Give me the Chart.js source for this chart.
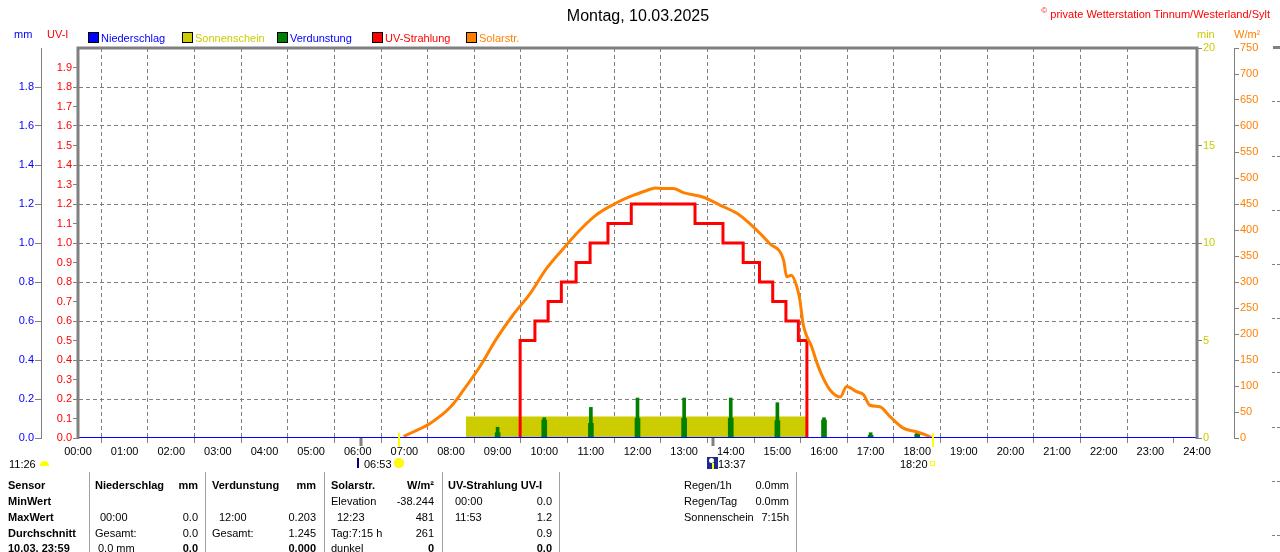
<!DOCTYPE html>
<html lang="de">
<head>
<meta charset="utf-8">
<title>Montag, 10.03.2025</title>
<script src="https://cdn.jsdelivr.net/npm/chart.js@4.4.1/dist/chart.umd.min.js"></script>
<style>
  html, body { margin: 0; padding: 0; background: #fff; overflow: hidden; }
  #wrap { position: relative; width: 1280px; height: 552px; overflow: hidden;
          font-family: "Liberation Sans", Arial, sans-serif; font-size: 11px; color: #000; }
  #chart { position: absolute; left: 0; top: 0; }
  .t { position: absolute; white-space: nowrap; line-height: 12px; }
  .r { text-align: right; }
  .b { font-weight: bold; }
  .box { position: absolute; width: 9px; height: 9px; border: 1px solid #000; }
  .sep { position: absolute; top: 472px; width: 1px; height: 80px; background: #a0a0a0; }
  .dash { position: absolute; left: 1272px; width: 8px; height: 1px;
          background: repeating-linear-gradient(90deg, #808080 0 3px, transparent 3px 5px); }
</style>
</head>
<body>
<div id="wrap">
  <canvas id="chart" width="1280" height="552"></canvas>

  <div class="t" style="left:0;width:1276px;top:7px;text-align:center;font-size:16px;line-height:18px;">Montag, 10.03.2025</div>
  <div class="t" style="right:10px;top:5px;color:#ff0000;"><sup style="font-size:8px;">©</sup> private Wetterstation Tinnum/Westerland/Sylt</div>

  <div class="t" style="left:14px;top:28px;color:#0000ff;">mm</div>
  <div class="t" style="left:47px;top:28px;color:#ff0000;">UV-I</div>
  <div class="t" style="left:1197px;top:28px;color:#cccc00;">min</div>
  <div class="t" style="left:1234px;top:28px;color:#ff8000;">W/m²</div>

  <div id="legende"></div>

  <div style="position:absolute;left:1273px;top:46px;width:7px;height:3px;background:#808080;"></div>
  <div class="dash" style="top:101px;"></div>
  <div class="dash" style="top:156px;"></div>
  <div class="dash" style="top:210px;"></div>
  <div class="dash" style="top:264px;"></div>
  <div class="dash" style="top:318px;"></div>
  <div class="dash" style="top:372px;"></div>
  <div class="dash" style="top:427px;"></div>
  <div class="dash" style="top:481px;"></div>
  <div class="dash" style="top:535px;"></div>

  <div class="t" style="left:9px;top:458px;">11:26</div>
  <div style="position:absolute;left:40px;top:461px;width:9px;height:5px;background:#ffff00;border-radius:5px 5px 0 0;"></div>
  <div style="position:absolute;left:357px;top:458px;width:2px;height:10px;background:#000080;"></div>
  <div class="t" style="left:364px;top:458px;">06:53</div>
  <div style="position:absolute;left:395px;top:459px;width:8px;height:8px;background:#ffff00;border-radius:50%;box-shadow:0 0 0 1px #ffee00;"></div>
  <div style="position:absolute;left:707px;top:457px;width:11px;height:12px;background:#1c2a8c;"></div>
  <div style="position:absolute;left:709px;top:458px;width:5px;height:5px;background:#fff;border-radius:50%;"></div>
  <div style="position:absolute;left:712px;top:463px;width:2px;height:6px;background:#ffff00;"></div>
  <div class="t" style="left:718px;top:458px;">13:37</div>
  <div class="t" style="left:900px;top:458px;">18:20</div>
  <div style="position:absolute;left:930px;top:461px;width:3px;height:3px;border:1px solid #ffff00;"></div>

  <div class="sep" style="left:89px;"></div>
  <div class="sep" style="left:205px;"></div>
  <div class="sep" style="left:324px;"></div>
  <div class="sep" style="left:442px;"></div>
  <div class="sep" style="left:559px;"></div>
  <div class="sep" style="left:796px;"></div>

  <div class="t b" style="left:8px;top:479px;">Sensor</div>
  <div class="t b" style="left:8px;top:495px;">MinWert</div>
  <div class="t b" style="left:8px;top:511px;">MaxWert</div>
  <div class="t b" style="left:8px;top:527px;">Durchschnitt</div>
  <div class="t b" style="left:8px;top:542px;">10.03. 23:59</div>

  <div class="t b" style="left:95px;top:479px;">Niederschlag</div>
  <div class="t b r" style="right:1082px;top:479px;">mm</div>
  <div class="t" style="left:100px;top:511px;">00:00</div>
  <div class="t r" style="right:1082px;top:511px;">0.0</div>
  <div class="t" style="left:95px;top:527px;">Gesamt:</div>
  <div class="t r" style="right:1082px;top:527px;">0.0</div>
  <div class="t" style="left:98px;top:542px;">0.0 mm</div>
  <div class="t b r" style="right:1082px;top:542px;">0.0</div>

  <div class="t b" style="left:212px;top:479px;">Verdunstung</div>
  <div class="t b r" style="right:964px;top:479px;">mm</div>
  <div class="t" style="left:219px;top:511px;">12:00</div>
  <div class="t r" style="right:964px;top:511px;">0.203</div>
  <div class="t" style="left:212px;top:527px;">Gesamt:</div>
  <div class="t r" style="right:964px;top:527px;">1.245</div>
  <div class="t b r" style="right:964px;top:542px;">0.000</div>

  <div class="t b" style="left:331px;top:479px;">Solarstr.</div>
  <div class="t b r" style="right:846px;top:479px;">W/m²</div>
  <div class="t" style="left:331px;top:495px;">Elevation</div>
  <div class="t r" style="right:846px;top:495px;">-38.244</div>
  <div class="t" style="left:337px;top:511px;">12:23</div>
  <div class="t r" style="right:846px;top:511px;">481</div>
  <div class="t" style="left:331px;top:527px;">Tag:7:15 h</div>
  <div class="t r" style="right:846px;top:527px;">261</div>
  <div class="t" style="left:331px;top:542px;">dunkel</div>
  <div class="t b r" style="right:846px;top:542px;">0</div>

  <div class="t b" style="left:448px;top:479px;">UV-Strahlung UV-I</div>
  <div class="t" style="left:455px;top:495px;">00:00</div>
  <div class="t r" style="right:728px;top:495px;">0.0</div>
  <div class="t" style="left:455px;top:511px;">11:53</div>
  <div class="t r" style="right:728px;top:511px;">1.2</div>
  <div class="t r" style="right:728px;top:527px;">0.9</div>
  <div class="t b r" style="right:728px;top:542px;">0.0</div>

  <div class="t" style="left:684px;top:479px;">Regen/1h</div>
  <div class="t r" style="right:491px;top:479px;">0.0mm</div>
  <div class="t" style="left:684px;top:495px;">Regen/Tag</div>
  <div class="t r" style="right:491px;top:495px;">0.0mm</div>
  <div class="t" style="left:684px;top:511px;">Sonnenschein</div>
  <div class="t r" style="right:491px;top:511px;">7:15h</div>
</div>

<script>
// Stundenbeschriftung der x-Achse
const xTickLabels = ['00:00','01:00','02:00','03:00','04:00','05:00','06:00','07:00','08:00',
  '09:00','10:00','11:00','12:00','13:00','14:00','15:00','16:00','17:00','18:00',
  '19:00','20:00','21:00','22:00','23:00','24:00'];

// Niederschlag (mm)
const niederschlagZeit = ['00:00', '24:00'];
const niederschlagMm = [0.0, 0.0];

// Sonnenschein (min)
const sonnenZeit = ['08:19', '15:38'];
const sonnenMin = [1.1, 1.1];

// Verdunstung (mm)
const verdunstZeit = ['09:00','10:00','11:00','12:00','13:00','14:00','15:00','16:00','17:00','18:00'];
const verdunstSpitze = [0.055, 0.104, 0.157, 0.205, 0.205, 0.205, 0.181, 0.104, 0.027, 0.034];
const verdunstSockel = [0.027, 0.092, 0.075, 0.101, 0.101, 0.101, 0.089, 0.092, 0.014, 0.020];

// UV-Strahlung (UV-I), Wechselzeitpunkte
const uvZeit = ['09:29','09:29','09:48','10:05','10:22','10:41','10:59','11:22','11:52',
  '13:14','13:50','14:16','14:37','14:54','15:11','15:27','15:38'];
const uvWert = [0.0, 0.5, 0.6, 0.7, 0.8, 0.9, 1.0, 1.1, 1.2,
  1.1, 1.0, 0.9, 0.8, 0.7, 0.6, 0.5, 0.0];

// Solarstrahlung (W/m²)
const solarZeit = ['06:59','07:12','07:33','07:59','08:16','08:37','08:59','09:20','09:42',
  '10:03','10:25','10:46','11:07','11:29','11:50','12:12','12:23','12:33','12:46','12:59',
  '13:25','13:46','14:08','14:29','14:50','15:08','15:12','15:18','15:25','15:29','15:33',
  '15:38','15:44','15:51','15:59','16:08','16:21','16:29','16:42','16:51','16:59','17:12',
  '17:25','17:42','17:59','18:14','18:18'];
const solarWert = [3, 12, 28, 59, 92, 137, 192, 237, 278,
  326, 365, 400, 429, 449, 464, 476, 481, 480, 480, 472,
  463, 448, 432, 406, 374, 342, 310, 313, 291, 265, 220,
  195, 176, 144, 115, 92, 79, 99, 89, 83, 63, 60,
  41, 19, 12, 4, 1];

// Sonnenauf-/untergang, Mond
const sonnenaufgang = '06:53';
const sonnenuntergang = '18:20';
const mondZeiten = ['06:04', '13:37'];

function zuStunden(t) {
  const [h, m] = t.split(':').map(Number);
  return h + m / 60;
}
function punkte(zeiten, werte) {
  return zeiten.map((t, i) => ({ x: zuStunden(t), y: werte[i] }));
}
// Tickwert aus dem Skript-Kontext (ohne Tick -> NaN)
function tw(c) {
  return c && c.tick ? c.tick.value : NaN;
}

// Legende
const legende = [
  { text: 'Niederschlag', box: '#0000ff', farbe: '#0000ff', left: 88 },
  { text: 'Sonnenschein', box: '#cccc00', farbe: '#cccc00', left: 182 },
  { text: 'Verdunstung', box: '#008000', farbe: '#0000ff', left: 277 },
  { text: 'UV-Strahlung', box: '#ff0000', farbe: '#ff0000', left: 372 },
  { text: 'Solarstr.', box: '#ff8000', farbe: '#ff8000', left: 466 }
];
const leg = document.getElementById('legende');
legende.forEach(e => {
  leg.insertAdjacentHTML('beforeend',
    `<div class="box" style="left:${e.left}px;top:32px;background:${e.box};"></div>` +
    `<div class="t" style="left:${e.left + 13}px;top:32px;color:${e.farbe};">${e.text}</div>`);
});

const GRAU = '#808080';
const LEER = 'rgba(0,0,0,0)';

const rahmenPlugin = {
  id: 'rahmen',
  afterDraw(chart) {
    const { ctx, chartArea: a, scales } = chart;
    const x = scales.x;
    ctx.save();
    ctx.strokeStyle = GRAU;
    ctx.lineWidth = 3;
    ctx.beginPath();
    ctx.moveTo(a.left, a.bottom + 1);
    ctx.lineTo(a.left, a.top);
    ctx.lineTo(a.right, a.top);
    ctx.lineTo(a.right, a.bottom + 1);
    ctx.stroke();

    mondZeiten.forEach(t => {
      const px = Math.round(x.getPixelForValue(zuStunden(t)));
      ctx.beginPath();
      ctx.moveTo(px, a.bottom);
      ctx.lineTo(px, a.bottom + 8);
      ctx.stroke();
    });

    ctx.strokeStyle = '#ffff00';
    ctx.lineWidth = 2;
    [sonnenaufgang, sonnenuntergang].forEach(t => {
      const px = Math.round(x.getPixelForValue(zuStunden(t)));
      ctx.beginPath();
      ctx.moveTo(px, a.bottom - 5);
      ctx.lineTo(px, a.bottom + 9);
      ctx.stroke();
    });
    ctx.restore();
  }
};

Chart.defaults.font.family = '"Liberation Sans", Arial, sans-serif';
Chart.defaults.font.size = 11;
Chart.defaults.color = '#000';

new Chart(document.getElementById('chart').getContext('2d'), {
  type: 'line',
  data: {
    datasets: [
      {
        label: 'Niederschlag',
        data: punkte(niederschlagZeit, niederschlagMm),
        yAxisID: 'yMM',
        borderColor: '#0000ff',
        borderWidth: 2,
        pointRadius: 0,
        order: 1
      },
      {
        label: 'Solarstr.',
        data: punkte(solarZeit, solarWert),
        yAxisID: 'yW',
        borderColor: '#ff8000',
        borderWidth: 3,
        pointRadius: 0,
        cubicInterpolationMode: 'monotone',
        order: 2
      },
      {
        label: 'UV-Strahlung',
        data: punkte(uvZeit, uvWert),
        yAxisID: 'yUV',
        borderColor: '#ff0000',
        borderWidth: 3,
        pointRadius: 0,
        stepped: true,
        order: 3
      },
      {
        type: 'bar',
        label: 'Verdunstung',
        data: punkte(verdunstZeit, verdunstSpitze),
        yAxisID: 'yMM',
        backgroundColor: '#008000',
        barThickness: 3,
        grouped: false,
        order: 4
      },
      {
        type: 'bar',
        label: 'Verdunstung Sockel',
        data: punkte(verdunstZeit, verdunstSockel),
        yAxisID: 'yMM',
        backgroundColor: '#008000',
        barThickness: 5,
        grouped: false,
        order: 4
      },
      {
        label: 'Sonnenschein',
        data: punkte(sonnenZeit, sonnenMin),
        yAxisID: 'yMin',
        borderWidth: 0,
        borderColor: '#cccc00',
        backgroundColor: '#cccc00',
        fill: 'origin',
        pointRadius: 0,
        order: 5
      }
    ]
  },
  options: {
    responsive: false,
    animation: false,
    events: [],
    layout: { padding: { top: 48 } },
    plugins: { legend: { display: false }, tooltip: { enabled: false } },
    scales: {
      x: {
        type: 'linear',
        min: 0, max: 24,
        offset: false,
        afterFit: s => { s.height = 114; },
        ticks: {
          stepSize: 1,
          autoSkip: false,
          maxRotation: 0,
          padding: 2,
          callback: v => xTickLabels[v]
        },
        grid: {
          color: c => (tw(c) > 0 && tw(c) < 24) ? GRAU : LEER,
          tickColor: GRAU,
          tickLength: 5,
          tickBorderDash: []
        },
        border: { display: false, dash: [4, 3] }
      },
      yUV: {
        position: 'left',
        min: 0, max: 2,
        weight: 0,
        afterFit: s => { s.width = 37; },
        ticks: {
          stepSize: 0.1,
          color: '#ff0000',
          padding: 1,
          callback: v => (Math.abs(v - 2) < 1e-6 ? '' : v.toFixed(1))
        },
        grid: { drawOnChartArea: false, tickColor: c => (tw(c) < 1.95 ? GRAU : LEER), tickLength: 5 },
        border: { display: false }
      },
      yMM: {
        position: 'left',
        min: 0, max: 2,
        weight: 1,
        afterFit: s => { s.width = 41; },
        ticks: {
          stepSize: 0.2,
          color: '#0000ff',
          padding: 1,
          callback: v => (Math.abs(v - 2) < 1e-6 ? '' : v.toFixed(1))
        },
        grid: {
          color: c => (tw(c) > 0.01 && tw(c) < 1.99) ? GRAU : LEER,
          tickColor: c => (tw(c) < 1.99 ? GRAU : LEER),
          tickLength: 6,
          tickBorderDash: []
        },
        border: { display: true, color: GRAU, width: 1, dash: [4, 3] }
      },
      yMin: {
        position: 'right',
        min: 0, max: 20,
        weight: 0,
        afterFit: s => { s.width = 37; },
        ticks: { stepSize: 5, color: '#cccc00', padding: 1 },
        grid: { drawOnChartArea: false, tickColor: GRAU, tickLength: 5 },
        border: { display: false }
      },
      yW: {
        position: 'right',
        min: 0, max: 750,
        weight: 1,
        afterFit: s => { s.width = 46; },
        ticks: { stepSize: 50, color: '#ff8000', padding: 1 },
        grid: { drawOnChartArea: false, tickColor: GRAU, tickLength: 5 },
        border: { display: true, color: GRAU, width: 1 }
      }
    }
  },
  plugins: [rahmenPlugin]
});
</script>
</body>
</html>
